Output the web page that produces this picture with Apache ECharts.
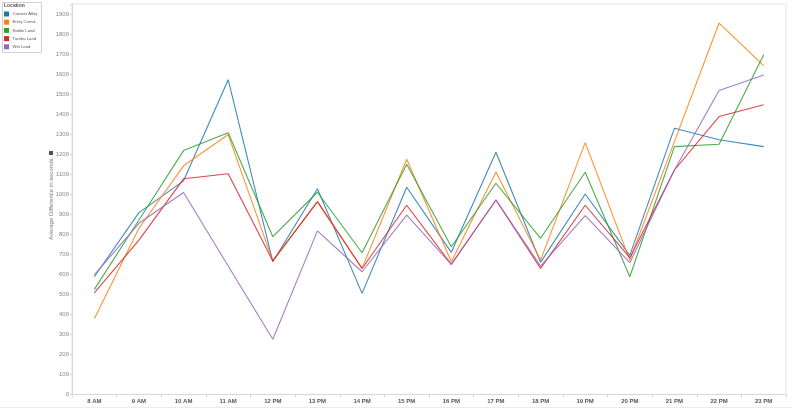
<!DOCTYPE html>
<html>
<head>
<meta charset="utf-8">
<script src="https://cdn.jsdelivr.net/npm/echarts@6/dist/echarts.min.js"></script>
<style>
html,body{margin:0;padding:0;background:#fff;}
#chart{width:792px;height:410px;}
</style>
</head>
<body>
<div id="chart"></div>
<script>
const hours = ['8 AM','9 AM','10 AM','11 AM','12 PM','13 PM','14 PM','15 PM','16 PM','17 PM','18 PM','19 PM','20 PM','21 PM','22 PM','23 PM'];
const seriesNames = ['Coaster Alley','Entry Corridor','Kiddie Land','Tundra Land','Wet Land'];
const coasterAlley = [588, 908, 1067, 1572, 663, 1027, 505, 1035, 710, 1210, 660, 1001, 695, 1330, 1272, 1238];
const entryCorridor = [378, 830, 1142, 1298, 667, 963, 630, 1175, 663, 1111, 671, 1258, 671, 1263, 1855, 1642];
const kiddieLand = [525, 871, 1218, 1307, 788, 1010, 708, 1150, 738, 1055, 780, 1110, 588, 1238, 1250, 1697];
const tundraLand = [508, 771, 1077, 1102, 667, 963, 629, 945, 650, 971, 630, 945, 683, 1121, 1388, 1447];
const wetLand = [597, 855, 1009, 642, 276, 817, 613, 896, 650, 971, 641, 893, 658, 1121, 1518, 1595];
const yTicks = [0,100,200,300,400,500,600,700,800,900,1000,1100,1200,1300,1400,1500,1600,1700,1800,1900];

const colors = ['#1f77b4','#ff7f0e','#2ca02c','#d62728','#9467bd'];
const allData = [coasterAlley, entryCorridor, kiddieLand, tundraLand, wetLand];

const chart = echarts.init(document.getElementById('chart'), null, {renderer:'canvas'});
chart.setOption({
  animation: false,
  color: colors,
  textStyle: {fontFamily: 'Liberation Sans, Arial, sans-serif'},
  grid: {left: 72, right: 6, top: 4, bottom: 15.5, show: true, borderColor: '#e4e4e4', borderWidth: 1},
  graphic: [
    {type:'rect', left: 2, top: 2, shape:{width: 39, height: 50}, style:{fill:'#fff', stroke:'#d0d0d0', lineWidth: 1}, z: 10},
    {type:'text', left: 4, top: 3.5, style:{text:'Location', fontSize: 5, fontWeight: 'bold', fill:'#555', fontFamily:'Liberation Sans, Arial, sans-serif'}, z: 11},
    {type:'rect', left: 49, top: 151, shape:{width: 4, height: 4}, style:{fill:'#445566'}, z: 11},
    {type:'line', shape:{x1: 0, y1: 407.5, x2: 792, y2: 407.5}, style:{stroke:'#ececec', lineWidth: 1}, z: 1}
  ],
  legend: {
    orient: 'vertical', left: 4, top: 11.5, itemWidth: 5, itemHeight: 5, itemGap: 3.2,
    icon: 'rect', z: 12, padding: 0,
    data: seriesNames,
    formatter: function(n){ return n === 'Entry Corridor' ? 'Entry Corrid..' : n; },
    textStyle: {fontSize: 4.2, color: '#555', padding: [0,0,0,-1.5]}
  },
  xAxis: {
    type: 'category', data: hours, boundaryGap: true,
    axisLine: {show: true, lineStyle: {color: '#d8d8d8'}},
    axisTick: {show: true, length: 3, lineStyle: {color: '#d8d8d8'}},
    axisLabel: {fontSize: 6, fontWeight: 'bold', color: '#555', margin: 4}
  },
  yAxis: {
    type: 'value', min: 0, max: 1950, interval: 100,
    name: 'Average Difference in seconds', nameLocation: 'middle', nameGap: 18, nameMoveOverlap: false,
    nameTextStyle: {fontSize: 6, color: '#777'},
    axisLine: {show: true, lineStyle: {color: '#d8d8d8'}},
    axisTick: {show: true, length: 2, lineStyle: {color: '#d8d8d8'}},
    splitLine: {show: false},
    axisLabel: {fontSize: 6, color: '#888', margin: 3,
      formatter: function(v){ return yTicks.indexOf(v) >= 0 ? String(v) : ''; }}
  },
  series: seriesNames.map((n, i) => ({
    name: n, type: 'line', data: allData[i], symbol: 'none',
    lineStyle: {width: 1.1, color: colors[i], opacity: 0.85},
    itemStyle: {color: colors[i]}
  }))
});
</script>
</body>
</html>
